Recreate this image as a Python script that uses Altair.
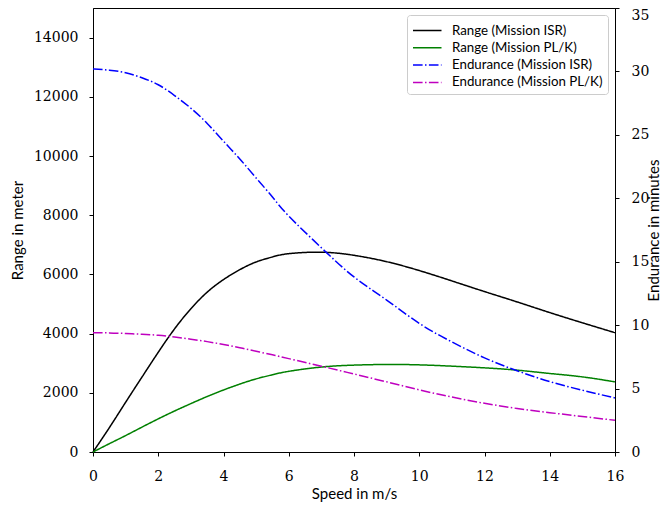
import altair as alt
import pandas as pd

speed = [0, 0.5, 1, 1.5, 2, 2.5, 3, 3.5, 4, 4.5, 5, 5.5, 6, 7, 8, 9, 10, 11, 12, 13, 14, 15, 16]
range_isr = [0, 820, 1680, 2530, 3370, 4160, 4840, 5400, 5825, 6160, 6420, 6590, 6700,
             6750, 6645, 6430, 6130, 5780, 5420, 5070, 4710, 4365, 4030]
range_plk = [0, 280, 555, 840, 1120, 1385, 1635, 1875, 2095, 2295, 2470, 2610, 2725,
             2870, 2935, 2957, 2944, 2900, 2843, 2765, 2653, 2538, 2369]
end_isr = [30.2, 30.1, 29.9, 29.5, 28.95, 28.1, 27.1, 25.9, 24.5, 23.1, 21.6, 20.1, 18.6,
           16.1, 13.8, 11.98, 10.14, 8.68, 7.42, 6.40, 5.55, 4.87, 4.26]
end_plk = [9.40, 9.39, 9.34, 9.28, 9.20, 9.06, 8.89, 8.70, 8.47, 8.22, 7.94, 7.66, 7.36,
           6.76, 6.15, 5.53, 4.90, 4.33, 3.84, 3.43, 3.10, 2.80, 2.50]

series = ["Range (Mission ISR)", "Range (Mission PL/K)",
          "Endurance (Mission ISR)", "Endurance (Mission PL/K)"]
colors = ["#000000", "#008000", "#0000ff", "#bf00bf"]
dashes = [[1, 0], [1, 0], [9.6, 2.4, 1.5, 2.4], [9.6, 2.4, 1.5, 2.4]]

rows_r = []
for i, s in enumerate(speed):
    rows_r.append({"speed": s, "value": range_isr[i], "series": series[0]})
    rows_r.append({"speed": s, "value": range_plk[i], "series": series[1]})
rows_e = []
for i, s in enumerate(speed):
    rows_e.append({"speed": s, "value": end_isr[i], "series": series[2]})
    rows_e.append({"speed": s, "value": end_plk[i], "series": series[3]})
df_r = pd.DataFrame(rows_r)
df_e = pd.DataFrame(rows_e)

serif = "DejaVu Serif"
sans = "Lato"

legend = alt.Legend(title=None, orient="top-right", offset=7, fillColor="white",
                    strokeColor="#cccccc", cornerRadius=3, padding=5,
                    symbolType="M-1,0H2", symbolSize=361, symbolStrokeWidth=1.5,
                    labelFont=sans, labelFontSize=13.3, labelColor="black",
                    rowPadding=0.3, labelOffset=19)

color = alt.Color("series:N", scale=alt.Scale(domain=series, range=colors), legend=legend)
dash = alt.StrokeDash("series:N", scale=alt.Scale(domain=series, range=dashes), legend=legend)

xenc = alt.X("speed:Q", scale=alt.Scale(domain=[0, 16], nice=False),
             axis=alt.Axis(values=list(range(0, 17, 2)), title="Speed in m/s", format="d",
                           labelFlush=False, labelPadding=13, titlePadding=3))

left = alt.Chart(df_r).mark_line(strokeWidth=1.5, interpolate="natural").encode(
    x=xenc,
    y=alt.Y("value:Q", scale=alt.Scale(domain=[0, 15000], nice=False),
            axis=alt.Axis(values=list(range(0, 14001, 2000)), title="Range in meter",
                          format="d", orient="left", labelPadding=11, titlePadding=8)),
    color=color, strokeDash=dash, detail="series:N")

right = alt.Chart(df_e).mark_line(strokeWidth=1.5, interpolate="natural").encode(
    x=xenc,
    y=alt.Y("value:Q", scale=alt.Scale(domain=[0, 35], nice=False),
            axis=alt.Axis(values=list(range(0, 36, 5)), title="Endurance in minutes",
                          format="d", orient="right", titleAngle=270,
                          titleX=31, titleY=222, titleAlign="center", titleBaseline="top",
                          labelPadding=12,
                          labelOffset={"condition": {"test": "datum.value == 35", "value": 7}, "value": 0})),
    color=color, strokeDash=dash, detail="series:N")

chart = alt.layer(left, right).resolve_scale(y="independent").properties(
    width=522, height=444,
    autosize=alt.AutoSizeParams(type="none"),
    padding={"left": 85, "top": 0, "right": 47, "bottom": 51},
).configure_view(stroke="black", strokeWidth=1).configure_axis(
    grid=False, domainColor="black", tickColor="black", tickSize=4,
    labelFont=serif, labelFontSize=14, labelColor="black",
    titleFont=sans, titleFontSize=15, titleFontWeight="normal", titleColor="black",
    domainWidth=1, tickWidth=1
)

chart.save("out.html", embed_options={"renderer": "svg", "actions": False})
